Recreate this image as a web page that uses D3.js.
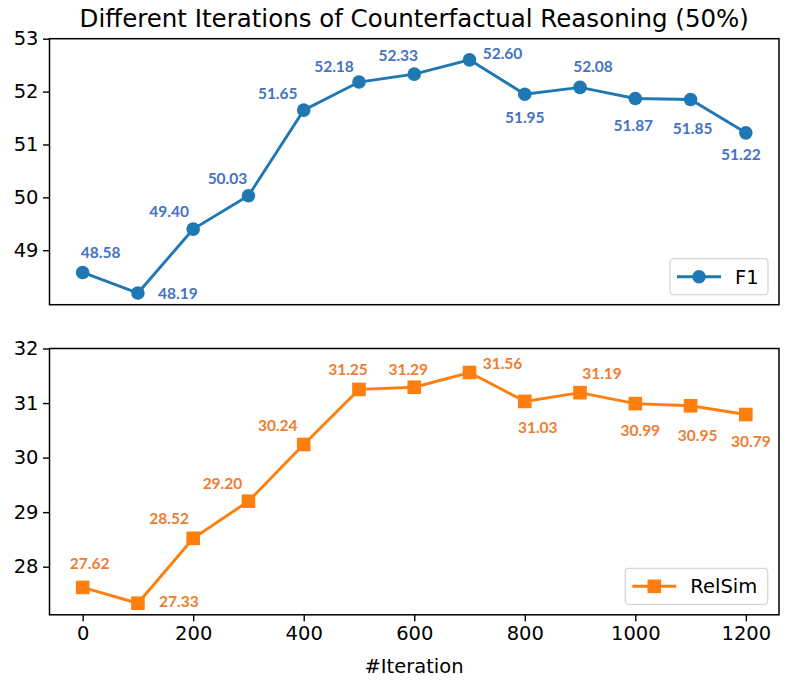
<!DOCTYPE html>
<html><head><meta charset="utf-8">
<script src="https://cdn.jsdelivr.net/npm/d3@7"></script>
<style>body{margin:0;background:#fff}svg{display:block}</style>
</head><body>
<svg id="c" width="789" height="680"></svg>
<script>
const iterations = [0,100,200,300,400,500,600,700,800,900,1000,1100,1200];
const f1Values = [48.58,48.19,49.40,50.03,51.65,52.18,52.33,52.60,51.95,52.08,51.87,51.85,51.22];
const relsimValues = [27.62,27.33,28.52,29.20,30.24,31.25,31.29,31.56,31.03,31.19,30.99,30.95,30.79];
const xTicks = [0,200,400,600,800,1000,1200];
const f1Ticks = [49,50,51,52,53];
const relsimTicks = [28,29,30,31,32];
const f1LabelOffsets = [[18,-20],[40,0],[-24,-18],[-21,-17],[-26,-17],[-25,-16],[-16,-19],[33,-6],[0,23],[13,-21],[-2,27],[2,29],[-5,22]];
const relsimLabelOffsets = [[7,-24],[41,-2],[-24,-20],[-26,-18],[-26,-19],[-11,-20],[-6,-18],[33,-9],[13,26],[22,-19],[5,27],[7,30],[5,27]];

const svg = d3.select('#c');
const L = 49.5, R = 779;
const x = d3.scaleLinear().domain([-60,1260]).range([L,R]);
const tickFont = 'DejaVu Sans, sans-serif';
const tickSize = 19.5;

svg.append('text').attr('x',(L+R)/2).attr('y',26.5).attr('text-anchor','middle')
  .attr('font-family',tickFont).attr('font-size',24.5).attr('fill','#000')
  .text('Different Iterations of Counterfactual Reasoning (50%)');

function panel(top, bottom, yDomain, yTicks, vals, offs, lineColor, labColor, marker, name, showX, legend){
  const y = d3.scaleLinear().domain(yDomain).range([bottom, top]);
  const g = svg.append('g');
  const ya = g.append('g').attr('transform',`translate(${L},0)`)
    .call(d3.axisLeft(y).tickValues(yTicks).tickSize(6.5).tickPadding(4.5).tickFormat(d3.format('d')));
  ya.select('.domain').remove();
  ya.selectAll('line').attr('stroke','#000').attr('stroke-width',1.4);
  ya.selectAll('text').attr('font-family',tickFont).attr('font-size',tickSize).attr('fill','#000');
  const xa = g.append('g').attr('transform',`translate(0,${bottom})`)
    .call(d3.axisBottom(x).tickValues(xTicks).tickSize(showX?6.5:0).tickPadding(5).tickFormat(showX?d3.format('d'):()=>''));
  xa.select('.domain').remove();
  xa.selectAll('line').attr('stroke','#000').attr('stroke-width',1.4);
  xa.selectAll('text').attr('font-family',tickFont).attr('font-size',tickSize).attr('fill','#000');
  g.append('rect').attr('x',L).attr('y',top).attr('width',R-L).attr('height',bottom-top)
    .attr('fill','none').attr('stroke','#000').attr('stroke-width',1.5);
  const line = d3.line().x((d,i)=>x(iterations[i])).y(d=>y(d));
  g.append('path').datum(vals).attr('d',line).attr('fill','none').attr('stroke',lineColor).attr('stroke-width',2.9);
  const mk = g.append('g');
  vals.forEach((v,i)=>{
    const cx = x(iterations[i]), cy = y(v);
    if(marker==='circle') mk.append('circle').attr('cx',cx).attr('cy',cy).attr('r',6.8).attr('fill',lineColor);
    else mk.append('rect').attr('x',cx-6.8).attr('y',cy-6.8).attr('width',13.6).attr('height',13.6).attr('fill',lineColor);
  });
  vals.forEach((v,i)=>{
    g.append('text').attr('x',x(iterations[i])+offs[i][0]).attr('y',y(v)+offs[i][1]+5.5)
      .attr('text-anchor','middle').attr('font-family','Lato, "Open Sans", sans-serif').attr('font-weight','bold')
      .attr('font-size',15.5).attr('fill',labColor).text(v.toFixed(2));
  });
  const lg = g.append('g');
  lg.append('rect').attr('x',legend.x).attr('y',legend.y).attr('width',legend.w).attr('height',36)
    .attr('rx',3.5).attr('fill','#fff').attr('fill-opacity',0.8).attr('stroke','#d6d6d6').attr('stroke-width',1.3);
  const ly = legend.y+18, lx0 = legend.x+7, lx1 = legend.x+51;
  lg.append('line').attr('x1',lx0).attr('x2',lx1).attr('y1',ly).attr('y2',ly).attr('stroke',lineColor).attr('stroke-width',2.9);
  const mcx=(lx0+lx1)/2;
  if(marker==='circle') lg.append('circle').attr('cx',mcx).attr('cy',ly).attr('r',6.8).attr('fill',lineColor);
  else lg.append('rect').attr('x',mcx-6.8).attr('y',ly-6.8).attr('width',13.6).attr('height',13.6).attr('fill',lineColor);
  lg.append('text').attr('x',lx1+14).attr('y',ly+7).attr('font-family',tickFont).attr('font-size',tickSize).attr('fill','#000').text(name);
}

panel(38.7, 304.7, [47.97,53], f1Ticks, f1Values, f1LabelOffsets, '#1f77b4', '#4472c4', 'circle', 'F1', false, {x:670,y:258.7,w:98});
panel(348.5, 614.8, [27.118,32], relsimTicks, relsimValues, relsimLabelOffsets, '#ff7f0e', '#ed7d31', 'square', 'RelSim', true, {x:625.3,y:568.3,w:142.4});

svg.append('text').attr('x',414).attr('y',672.5).attr('text-anchor','middle')
  .attr('font-family',tickFont).attr('font-size',tickSize).attr('fill','#000').text('#Iteration');
</script>
</body></html>
